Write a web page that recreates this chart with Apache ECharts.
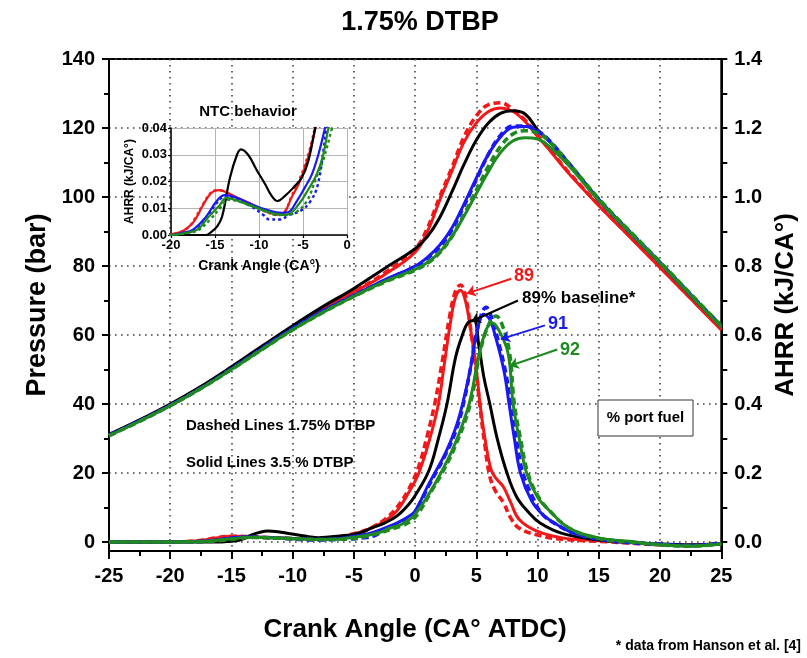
<!DOCTYPE html>
<html><head><meta charset="utf-8">
<script src="https://cdn.jsdelivr.net/npm/echarts@6/dist/echarts.min.js"></script>
<style>html,body{margin:0;padding:0;background:#fff}#c{width:807px;height:658px}</style>
</head><body><div id="c"></div>
<script>
// ---------------- DATA ----------------
// Crank angle grid for pressure traces (CA deg ATDC)
const caP = [-25,-22.5,-20,-17.5,-15,-12.5,-10,-7.5,-5,-2.5,0,1,2,3,4,5,6,7,8,9,10,11,12.5,15,17.5,20,22.5,25];
// Pressure (bar)
const p89Solid = [31,35.2,39.8,44.9,50.5,56.5,62.4,67.8,72.5,77.5,84,90,99,107.5,116,121.5,124.8,125.8,124.8,121.8,117.5,113.5,107,97.5,88.5,79.5,70.5,61.5];
const p89Dash  = [31,35.2,39.8,44.9,50.5,56.5,62.4,67.8,72.5,78,85,91,100,108.5,117.5,123.5,126.8,127.3,125.3,122.2,118,113.8,107.3,97.7,88.7,79.7,70.7,61.7];
const p89Base  = [31.2,35.4,40,45.1,50.8,56.8,62.7,68.3,73.5,79.3,85,88.5,94,101.5,109.5,116.5,121.5,124.3,125,124,119.5,116,110,99.2,89.8,80.8,71.5,62.5];
const p91Solid = [31,35.1,39.6,44.6,50.2,56.1,61.9,67,71.5,76,80,82.5,86,91,98,105.5,112.5,117.5,120.2,120.4,119,116,109.8,99,89.8,80.8,71.5,62.5];
const p91Dash  = [31,35.1,39.6,44.6,50.2,56.1,61.9,67,71.5,75.8,79.8,82.2,85.5,90.5,97.5,105,112.5,118,120.6,120.6,119.2,116.2,110,99.2,90,81,71.7,62.7];
const p92Solid = [30.8,35,39.5,44.5,50,55.8,61.5,66.6,71.2,75.5,79,81,84,88.5,94.5,101,107.5,113,116.3,117.2,116.8,114.5,109.3,99,89.8,80.8,71.5,62.3];
const p92Dash  = [30.8,35,39.5,44.5,50,55.8,61.5,66.6,71.2,75.3,78.8,80.8,83.8,88.5,95,102,109,114.8,118.3,119.2,118.5,116,110,99.5,90.2,81.2,71.9,62.7];

// AHRR (kJ/CA deg) as [crank angle, value]
const a89Solid = [[-25,0],[-21,0],[-19,0.001],[-18,0.003],[-17.3,0.0055],[-16.3,0.0115],[-15.4,0.0158],[-14.6,0.0168],[-13.7,0.016],[-12.5,0.014],[-10.8,0.0115],[-9.3,0.009],[-7.8,0.0077],[-7.1,0.0085],[-6.3,0.014],[-5.5,0.019],[-4.8,0.025],[-4,0.034],[-3.3,0.045],[-2.5,0.06],[-1.5,0.09],[-0.5,0.145],[0.3,0.2],[1.2,0.3],[1.9,0.4],[2.4,0.52],[2.9,0.64],[3.3,0.71],[3.7,0.73],[4.1,0.7],[4.6,0.6],[5.0,0.5],[5.3,0.4],[5.7,0.3],[6.2,0.21],[6.6,0.185],[7.2,0.16],[7.8,0.115],[8.5,0.065],[9.9,0.032],[12,0.012],[15,0.004],[18,-0.003],[20,-0.008],[22.5,-0.01],[25,-0.005]];
const a89Dash  = [[-25,0],[-21,0],[-19,0.001],[-18,0.003],[-17.3,0.006],[-16.3,0.0118],[-15.4,0.016],[-14.6,0.0168],[-13.7,0.0158],[-12.5,0.0138],[-10.8,0.0112],[-9.3,0.0088],[-7.8,0.0075],[-7.1,0.0085],[-6.3,0.0145],[-5.5,0.02],[-4.8,0.026],[-4,0.035],[-3.3,0.047],[-2.5,0.065],[-1.5,0.1],[-0.5,0.155],[0.3,0.22],[1.0,0.31],[1.6,0.4],[2.2,0.52],[2.8,0.65],[3.3,0.728],[3.7,0.745],[4.1,0.715],[4.6,0.6],[5.0,0.49],[5.3,0.39],[5.7,0.28],[6.1,0.19],[6.6,0.145],[7.2,0.115],[7.8,0.07],[8.5,0.04],[10,0.02],[12,0.008],[15,0.002],[18,-0.004],[20,-0.008],[22.5,-0.01],[25,-0.004]];
const a89Base  = [[-25,0],[-16,0],[-15.4,0.0012],[-14.8,0.003],[-14.2,0.0068],[-13.3,0.0214],[-12.5,0.03],[-12.05,0.032],[-11.2,0.0298],[-10.3,0.0245],[-9.3,0.019],[-8.6,0.0148],[-7.9,0.0127],[-7.05,0.0146],[-6.1,0.0177],[-5.15,0.0214],[-4.4,0.0276],[-3.6,0.04],[-2.5,0.055],[-1.5,0.075],[-0.5,0.11],[0,0.135],[1.1,0.205],[1.9,0.3],[2.6,0.4],[3.3,0.535],[3.86,0.6],[4.3,0.635],[4.8,0.642],[5.2,0.57],[5.6,0.48],[6.1,0.4],[6.7,0.3],[7.5,0.2],[8.3,0.13],[9.3,0.085],[10.2,0.055],[12,0.025],[15,0.006],[18,-0.002],[20,-0.006],[22.5,-0.008],[25,-0.004]];
const a91Solid = [[-25,0],[-20,0],[-18.7,0.0008],[-17.5,0.002],[-16.1,0.0065],[-14.8,0.0127],[-13.9,0.0149],[-12.6,0.014],[-10.8,0.0114],[-9.3,0.0096],[-7.4,0.0083],[-6.7,0.0085],[-5.7,0.0127],[-4.8,0.0177],[-4.0,0.0226],[-3.26,0.03],[-2.5,0.04],[-1.5,0.055],[-0.5,0.075],[0,0.09],[1.14,0.17],[2.5,0.26],[3.3,0.33],[3.87,0.4],[4.5,0.5],[5.0,0.6],[5.6,0.66],[6.1,0.645],[6.6,0.59],[7.26,0.495],[7.67,0.4],[8.1,0.3],[8.6,0.2],[9.5,0.12],[10.4,0.08],[11.6,0.05],[13,0.025],[15,0.01],[17.5,0],[20,-0.006],[22.5,-0.01],[25,-0.004]];
const a91Dash  = [[-25,0],[-20,0],[-18.5,0.0008],[-17.3,0.002],[-16,0.006],[-14.8,0.012],[-13.8,0.0145],[-12.6,0.0133],[-10.8,0.0105],[-9.5,0.0075],[-8.8,0.0058],[-7.6,0.0058],[-6.6,0.0075],[-5.3,0.009],[-4.2,0.0124],[-3.3,0.019],[-2.3,0.04],[-1.5,0.052],[-0.5,0.072],[0,0.088],[1.14,0.165],[2.5,0.255],[3.4,0.33],[4.0,0.41],[4.6,0.52],[5.1,0.62],[5.8,0.68],[6.3,0.645],[6.8,0.58],[7.4,0.49],[7.8,0.4],[8.3,0.29],[8.8,0.2],[9.6,0.13],[10.4,0.08],[11.6,0.05],[13,0.025],[15,0.008],[17.5,-0.002],[20,-0.007],[22.5,-0.01],[25,-0.004]];
const a92Solid = [[-25,0],[-20,0],[-18.3,0.0008],[-17,0.002],[-15.8,0.0065],[-14.5,0.011],[-13.7,0.0139],[-12.5,0.0129],[-10.8,0.0108],[-9.3,0.009],[-7.4,0.0075],[-6.7,0.0077],[-5.5,0.0114],[-4.4,0.017],[-3.45,0.0226],[-2.7,0.03],[-2.1,0.04],[-1.2,0.05],[-0.5,0.065],[0,0.08],[1.14,0.14],[2.1,0.2],[3.2,0.28],[4.4,0.4],[5.2,0.54],[5.8,0.615],[6.3,0.635],[6.9,0.61],[7.6,0.545],[8.0,0.4],[8.5,0.3],[9.1,0.2],[10,0.13],[11,0.09],[12.6,0.04],[15,0.012],[17.5,0.002],[20,-0.008],[22.5,-0.012],[25,-0.006]];
const a92Dash  = [[-25,0],[-20,0],[-18,0.0008],[-16.8,0.002],[-15.5,0.006],[-14.3,0.0105],[-13.5,0.0132],[-12.3,0.0125],[-10.5,0.0105],[-9,0.0085],[-8,0.0075],[-6.8,0.0075],[-5.6,0.009],[-4.5,0.013],[-3.6,0.0205],[-2.7,0.028],[-1.7,0.04],[-1,0.048],[-0.3,0.062],[0.3,0.085],[1.2,0.14],[2.2,0.2],[3.3,0.28],[4.5,0.4],[5.3,0.55],[6.0,0.63],[6.6,0.655],[7.1,0.63],[7.7,0.55],[8.1,0.4],[8.6,0.3],[9.2,0.2],[10,0.135],[11,0.09],[12.6,0.04],[15,0.01],[17.5,0],[20,-0.008],[22.5,-0.012],[25,-0.005]];

// Axis tick values
const pressureLabels = [0,20,40,60,80,100,120,140];
const pressureMinor  = [10,30,50,70,90,110,130];
const ahrrLabels = [0,0.2,0.4,0.6,0.8,1.0,1.2,1.4];
const ahrrTicks  = [0,0.1,0.2,0.3,0.4,0.5,0.6,0.7,0.8,0.9,1.0,1.1,1.2,1.3,1.4];

// Annotation arrows (data coordinates: crank angle, AHRR)
const arrowFrom = {r:[7.85,0.763], k:[8.4,0.70], b:[10.6,0.628], g:[11.6,0.558]};
const arrowTo   = {r:[4.2,0.72],  k:[4.6,0.64], b:[7.0,0.588],  g:[7.7,0.51]};

// ---------------- CHART ----------------
const FONT = '"Liberation Sans", Arial, Helvetica, sans-serif';
const COL = {r:'#f01818', k:'#000000', b:'#1a1af0', g:'#1f8a1f'};
const chart = echarts.init(document.getElementById('c'), null, {renderer:'canvas'});

function lineStyleFor(color, dashed, inset){
  return {color, width: inset ? (dashed?2.4:2.2) : (dashed?3.6:3), type: dashed ? (inset?[3,3]:[7,4]) : 'solid'};
}
function pSeries(ys, key, dashed){
  return {type:'line', xAxisIndex:0, yAxisIndex:0, data: caP.map((x,i)=>[x, ys[i]]),
    symbol:'none', smooth:0.4, lineStyle: lineStyleFor(COL[key], dashed, false), z:3, silent:true};
}
function aSeries(pairs, key, dashed, arrow){
  const s = {type:'line', xAxisIndex:0, yAxisIndex:2, data: pairs,
    symbol:'none', smooth:0.4, lineStyle: lineStyleFor(COL[key], dashed, false), z:3, silent:true};
  if (arrow){
    s.markLine = {silent:true, symbol:['none','arrow'], symbolSize:9, animation:false,
      label:{show:false}, lineStyle:{color:COL[key], width:2, type:'solid'},
      data:[[{coord:arrowFrom[key]},{coord:arrowTo[key]}]]};
  }
  return s;
}
function iSeries(pairs, key, dashed){
  return {type:'line', xAxisIndex:1, yAxisIndex:3, data: pairs, clip:true,
    symbol:'none', smooth:0.4, lineStyle: lineStyleFor(COL[key], dashed, true), z:8, silent:true};
}

const dotted = {show:true, lineStyle:{color:'#444', width:1.6, type:[1.6,4.4]}};
const bold = (size)=>({fontFamily:FONT, fontWeight:'bold', fontSize:size, color:'#000'});

const option = {
  animation:false,
  backgroundColor:'#fff',
  grid:[
    {left:109, right:85, top:59, bottom:107, show:true, borderColor:'#000', borderWidth:2, backgroundColor:'transparent'},
    {left:171, top:128, width:176, height:107}
  ],
  xAxis:[
    {type:'value', gridIndex:0, min:-25, max:25, interval:5,
     axisLine:{show:true, onZero:false, lineStyle:{color:'#000', width:2}},
     axisTick:{show:true, inside:false, length:8, lineStyle:{color:'#000', width:2}},
     minorTick:{show:true, splitNumber:2, length:5, lineStyle:{color:'#000', width:2}},
     axisLabel:Object.assign({margin:15}, bold(20)),
     splitLine:dotted,
     name:'Crank Angle (CA° ATDC)', nameLocation:'middle', nameGap:66, nameTextStyle:bold(26)},
    {type:'value', gridIndex:1, min:-20, max:0, interval:5, z:5,
     axisLine:{show:true, onZero:false, lineStyle:{color:'#000', width:1.5}},
     axisTick:{show:true, length:3, lineStyle:{color:'#000', width:1.2}},
     axisLabel:Object.assign({margin:4}, bold(13)),
     splitLine:{show:true, lineStyle:{color:'#b4b4b4', width:1, type:'solid'}},
     name:'Crank Angle (CA°)', nameLocation:'middle', nameGap:24, nameTextStyle:bold(14)}
  ],
  yAxis:[
    {type:'value', gridIndex:0, position:'left', min:-2.6, max:140,
     axisLine:{show:true, onZero:false, lineStyle:{color:'#000', width:2}},
     axisTick:{show:true, length:7, customValues:pressureLabels, lineStyle:{color:'#000', width:2}},
     axisLabel:Object.assign({margin:14, customValues:pressureLabels}, bold(20)),
     splitLine:dotted,
     name:'Pressure (bar)', nameLocation:'middle', nameRotate:90, nameGap:56, nameTextStyle:bold(27)},
    {type:'value', gridIndex:0, position:'left', min:-2.6, max:140,
     axisLine:{show:false, onZero:false}, axisLabel:{show:false}, splitLine:{show:false},
     axisTick:{show:true, length:5, customValues:pressureMinor, lineStyle:{color:'#000', width:2}}},
    {type:'value', gridIndex:0, position:'right', min:-0.026, max:1.4,
     axisLine:{show:true, onZero:false, lineStyle:{color:'#000', width:2}},
     axisTick:{show:true, length:6, customValues:ahrrTicks, lineStyle:{color:'#000', width:2}},
     axisLabel:Object.assign({margin:13, customValues:ahrrLabels, formatter:(v)=>Number(v).toFixed(1)}, bold(20)),
     splitLine:{show:false},
     name:'AHRR (kJ/CA°)', nameLocation:'middle', nameRotate:90, nameGap:50, nameTextStyle:bold(26)},
    {type:'value', gridIndex:1, min:0, max:0.04, interval:0.01, z:5,
     axisLine:{show:true, onZero:false, lineStyle:{color:'#000', width:1.5}},
     axisTick:{show:true, length:3, lineStyle:{color:'#000', width:1.2}},
     axisLabel:Object.assign({margin:4, formatter:(v)=>Number(v).toFixed(2)}, bold(13)),
     splitLine:{show:true, lineStyle:{color:'#b4b4b4', width:1, type:'solid'}},
     name:'AHRR (kJ/CA°)', nameLocation:'middle', nameRotate:90, nameGap:35, nameTextStyle:bold(12)}
  ],
  series:[
    pSeries(p89Solid,'r',false), pSeries(p89Dash,'r',true), pSeries(p89Base,'k',false),
    pSeries(p91Solid,'b',false), pSeries(p91Dash,'b',true),
    pSeries(p92Solid,'g',false), pSeries(p92Dash,'g',true),
    aSeries(a89Solid,'r',false,true), aSeries(a89Dash,'r',true,false), aSeries(a89Base,'k',false,true),
    aSeries(a91Solid,'b',false,true), aSeries(a91Dash,'b',true,false),
    aSeries(a92Solid,'g',false,true), aSeries(a92Dash,'g',true,false),
    iSeries(a89Solid,'r',false), iSeries(a89Dash,'r',true), iSeries(a89Base,'k',false),
    iSeries(a91Solid,'b',false), iSeries(a91Dash,'b',true),
    iSeries(a92Solid,'g',false), iSeries(a92Dash,'g',true)
  ],
  graphic:[
    {type:'rect', z:1, silent:true, shape:{x:171, y:128.5, width:176, height:106.5}, style:{fill:'#fff'}},
    {type:'text', z:10, x:420, y:23, style:{text:'1.75% DTBP', font:'bold 27px '+FONT, fill:'#000', align:'center', verticalAlign:'middle'}},
    {type:'text', z:10, x:248, y:112, style:{text:'NTC behavior', font:'bold 15px '+FONT, fill:'#000', align:'center', verticalAlign:'middle'}},
    {type:'text', z:10, x:186, y:426, style:{text:'Dashed Lines 1.75% DTBP', font:'bold 15px '+FONT, fill:'#000', align:'left', verticalAlign:'middle'}},
    {type:'text', z:10, x:186, y:463, style:{text:'Solid Lines 3.5 % DTBP', font:'bold 15px '+FONT, fill:'#000', align:'left', verticalAlign:'middle'}},
    {type:'rect', z:10, shape:{x:598, y:400, width:95, height:36}, style:{fill:'#fff', stroke:'#333', lineWidth:1}},
    {type:'text', z:11, x:645.5, y:418, style:{text:'% port fuel', font:'bold 15px '+FONT, fill:'#000', align:'center', verticalAlign:'middle'}},
    {type:'text', z:10, x:514, y:276, style:{text:'89', font:'bold 18px '+FONT, fill:COL.r, align:'left', verticalAlign:'middle'}},
    {type:'text', z:10, x:522, y:298, style:{text:'89% baseline*', font:'bold 17px '+FONT, fill:'#000', align:'left', verticalAlign:'middle'}},
    {type:'text', z:10, x:548, y:324, style:{text:'91', font:'bold 18px '+FONT, fill:COL.b, align:'left', verticalAlign:'middle'}},
    {type:'text', z:10, x:560, y:350, style:{text:'92', font:'bold 18px '+FONT, fill:COL.g, align:'left', verticalAlign:'middle'}},
    {type:'text', z:10, x:801, y:646, style:{text:'* data from Hanson et al. [4]', font:'bold 14px '+FONT, fill:'#000', align:'right', verticalAlign:'middle'}}
  ]
};
chart.setOption(option);
</script>
</body></html>
